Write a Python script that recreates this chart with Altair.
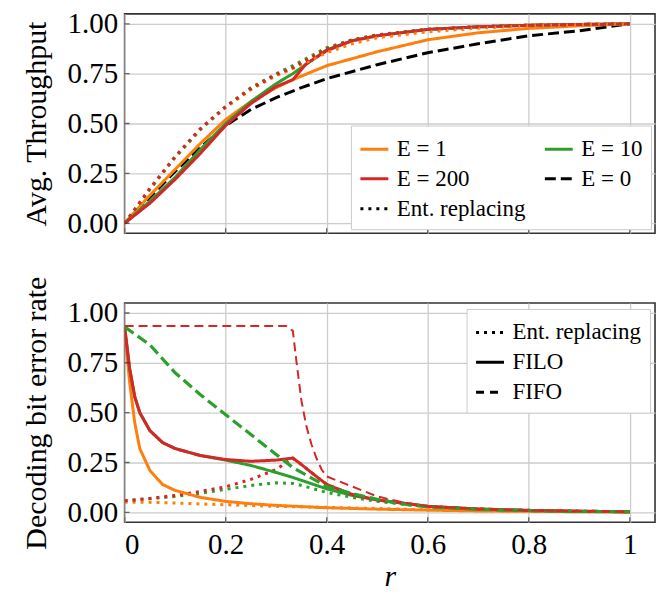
import altair as alt
import pandas as pd
import numpy as np

FONT = "Liberation Serif"
ORANGE = "#ff7f0e"
GREEN = "#2ca02c"
RED = "#d62728"
BLACK = "#000000"

# ---------------- top panel: Avg. Throughput ----------------
top_e0_x = [0, 0.05, 0.1, 0.15, 0.2, 0.25, 0.3, 0.35, 0.4, 0.5, 0.6, 0.7, 0.8, 0.9, 1.0]
top_e0_y = [0, 0.13, 0.26, 0.38, 0.49, 0.57, 0.63, 0.68, 0.725, 0.795, 0.855, 0.90, 0.94, 0.965, 1.0]

top_e1_x = [0, 0.05, 0.1, 0.15, 0.2, 0.25, 0.3, 0.333, 0.4, 0.5, 0.6, 0.7, 0.8, 0.9, 1.0]
top_e1_y = [0, 0.14, 0.27, 0.40, 0.52, 0.61, 0.68, 0.72, 0.79, 0.86, 0.92, 0.955, 0.977, 0.99, 1.0]

top_e10_x = [0, 0.05, 0.1, 0.15, 0.2, 0.25, 0.3, 0.333, 0.4, 0.45, 0.5, 0.6, 0.7, 0.8, 0.9, 1.0]
top_e10_y = [0, 0.11, 0.23, 0.37, 0.50, 0.61, 0.70, 0.75, 0.87, 0.915, 0.94, 0.972, 0.985, 0.993, 0.997, 1.0]

top_e200_x = [0, 0.05, 0.1, 0.15, 0.2, 0.25, 0.3, 0.333, 0.36, 0.4, 0.45, 0.5, 0.6, 0.7, 0.8, 0.9, 1.0]
top_e200_y = [0, 0.10, 0.22, 0.35, 0.49, 0.60, 0.685, 0.72, 0.80, 0.865, 0.915, 0.94, 0.972, 0.985, 0.993, 0.997, 1.0]

top_rep1_x = [0, 0.05, 0.1, 0.15, 0.2, 0.25, 0.3, 0.333, 0.4, 0.45, 0.5, 0.6, 0.7, 0.8, 0.9, 1.0]
top_rep1_y = [0, 0.17, 0.33, 0.47, 0.58, 0.67, 0.74, 0.775, 0.855, 0.90, 0.93, 0.96, 0.978, 0.99, 0.996, 1.0]

top_rep10_x = [0, 0.05, 0.1, 0.15, 0.2, 0.25, 0.3, 0.333, 0.4, 0.45, 0.5, 0.6, 0.7, 0.8, 0.9, 1.0]
top_rep10_y = [0, 0.17, 0.33, 0.47, 0.585, 0.68, 0.75, 0.79, 0.88, 0.92, 0.945, 0.973, 0.986, 0.993, 0.997, 1.0]

top_rep200_x = [0, 0.05, 0.1, 0.15, 0.2, 0.25, 0.3, 0.333, 0.4, 0.45, 0.5, 0.6, 0.7, 0.8, 0.9, 1.0]
top_rep200_y = [0, 0.175, 0.335, 0.475, 0.585, 0.675, 0.745, 0.78, 0.875, 0.918, 0.944, 0.972, 0.985, 0.993, 0.997, 1.0]

# ---------------- bottom panel: Decoding bit error rate ----------------
bot_filo1_x = [0, 0.005, 0.01, 0.02, 0.03, 0.05, 0.075, 0.1, 0.15, 0.2, 0.25, 0.3, 0.4, 0.5, 0.6, 0.7, 0.8, 0.9, 1.0]
bot_filo1_y = [0.90, 0.78, 0.65, 0.45, 0.32, 0.21, 0.14, 0.11, 0.075, 0.055, 0.043, 0.035, 0.023, 0.016, 0.011, 0.007, 0.005, 0.003, 0.002]

bot_filo10_x = [0, 0.01, 0.02, 0.03, 0.05, 0.075, 0.1, 0.15, 0.2, 0.25, 0.3, 0.333, 0.4, 0.45, 0.5, 0.6, 0.7, 0.8, 0.9, 1.0]
bot_filo10_y = [0.93, 0.72, 0.58, 0.50, 0.41, 0.35, 0.32, 0.285, 0.262, 0.235, 0.20, 0.175, 0.118, 0.085, 0.062, 0.03, 0.016, 0.009, 0.005, 0.003]

bot_filo200_x = [0, 0.01, 0.02, 0.03, 0.05, 0.075, 0.1, 0.15, 0.2, 0.25, 0.3, 0.333, 0.35, 0.367, 0.4, 0.45, 0.5, 0.6, 0.7, 0.8, 0.9, 1.0]
bot_filo200_y = [0.93, 0.72, 0.58, 0.50, 0.41, 0.35, 0.32, 0.285, 0.265, 0.256, 0.262, 0.272, 0.24, 0.205, 0.14, 0.09, 0.062, 0.03, 0.017, 0.01, 0.006, 0.003]

bot_fifo10_x = [0, 0.05, 0.1, 0.15, 0.2, 0.25, 0.3, 0.333, 0.35, 0.4, 0.45, 0.5, 0.55, 0.6, 0.7, 0.8, 0.9, 1.0]
bot_fifo10_y = [0.93, 0.84, 0.70, 0.59, 0.49, 0.39, 0.29, 0.225, 0.20, 0.13, 0.095, 0.065, 0.042, 0.027, 0.015, 0.009, 0.005, 0.003]

bot_fifo200_x = [0, 0.1, 0.2, 0.3, 0.32, 0.333, 0.34, 0.35, 0.36, 0.37, 0.38, 0.39, 0.4, 0.45, 0.5, 0.55, 0.6, 0.7, 0.8, 0.9, 1.0]
bot_fifo200_y = [0.935, 0.935, 0.935, 0.935, 0.935, 0.91, 0.76, 0.56, 0.43, 0.34, 0.27, 0.215, 0.18, 0.13, 0.08, 0.05, 0.03, 0.017, 0.01, 0.006, 0.003]

bot_rep1_x = [0, 0.05, 0.1, 0.15, 0.2, 0.3, 0.4, 0.5, 0.6, 0.7, 0.8, 0.9, 1.0]
bot_rep1_y = [0.05, 0.05, 0.047, 0.042, 0.038, 0.03, 0.025, 0.019, 0.013, 0.009, 0.006, 0.004, 0.002]

bot_rep10_x = [0, 0.05, 0.1, 0.15, 0.2, 0.25, 0.3, 0.333, 0.35, 0.4, 0.45, 0.5, 0.6, 0.7, 0.8, 0.9, 1.0]
bot_rep10_y = [0.058, 0.068, 0.08, 0.095, 0.115, 0.135, 0.148, 0.145, 0.135, 0.10, 0.075, 0.055, 0.028, 0.015, 0.009, 0.005, 0.003]

bot_rep200_x = [0, 0.05, 0.1, 0.15, 0.2, 0.25, 0.3, 0.333, 0.35, 0.367, 0.4, 0.45, 0.5, 0.6, 0.7, 0.8, 0.9, 1.0]
bot_rep200_y = [0.058, 0.07, 0.085, 0.105, 0.128, 0.165, 0.215, 0.272, 0.24, 0.205, 0.14, 0.09, 0.062, 0.03, 0.017, 0.01, 0.006, 0.003]

# ---------------- ticks / legend entries ----------------
x_ticks = [0, 0.2, 0.4, 0.6, 0.8, 1.0]
y_ticks = [0, 0.25, 0.5, 0.75, 1.0]

E_keys = ["1", "10", "200", "0"]
E_colors = [ORANGE, GREEN, RED, BLACK]

top_leg_keys = ["E = 1", "E = 10", "E = 200", "E = 0", "Ent. replacing"]
top_leg_colors = [ORANGE, GREEN, RED, BLACK, BLACK]
top_leg_dash = [[1, 0], [1, 0], [1, 0], [11, 5], [3, 5]]

bot_leg_keys = ["Ent. replacing", "FILO", "FIFO"]
bot_leg_colors = [BLACK, BLACK, BLACK]
bot_leg_dash = [[3, 5], [1, 0], [8, 6]]

SOLID = [1, 0]
DOT = [3, 5]
DASH = [11, 5]
THIN_DASH = [9, 5]

W = 532
H = 220
xs = alt.Scale(domain=[0, 1.05], nice=False, zero=False)
ys = alt.Scale(domain=[-0.05, 1.05], nice=False, zero=False)


def frame(series_list):
    rows = []
    for name, e, xv, yv, dash, width in series_list:
        for a, b in zip(xv, yv):
            rows.append({"series": name, "E": e, "x": a, "y": b})
    return pd.DataFrame(rows)


top_series = [
    ("e0", "0", top_e0_x, top_e0_y, DASH, 3),
    ("e1", "1", top_e1_x, top_e1_y, SOLID, 3),
    ("e10", "10", top_e10_x, top_e10_y, SOLID, 3),
    ("e200", "200", top_e200_x, top_e200_y, SOLID, 3),
    ("rep1", "1", top_rep1_x, top_rep1_y, DOT, 3),
    ("rep10", "10", top_rep10_x, top_rep10_y, DOT, 3),
    ("rep200", "200", top_rep200_x, top_rep200_y, DOT, 3),
]

bot_series = [
    ("rep1", "1", bot_rep1_x, bot_rep1_y, DOT, 3),
    ("rep10", "10", bot_rep10_x, bot_rep10_y, DOT, 3),
    ("rep200", "200", bot_rep200_x, bot_rep200_y, DOT, 3),
    ("filo1", "1", bot_filo1_x, bot_filo1_y, SOLID, 3),
    ("filo10", "10", bot_filo10_x, bot_filo10_y, SOLID, 3),
    ("filo200", "200", bot_filo200_x, bot_filo200_y, SOLID, 3),
    ("fifo10", "10", bot_fifo10_x, bot_fifo10_y, DASH, 3.2),
    ("fifo200", "200", bot_fifo200_x, bot_fifo200_y, THIN_DASH, 2),
]


def panel(series_list, show_x_labels, y_title, leg_keys, leg_colors, leg_dash, leg_x, leg_y, leg_cols):
    df = frame(series_list)
    if show_x_labels:
        x_axis = alt.Axis(values=x_ticks, format="~g", labelPadding=8, title="r",
                          titleFontStyle="italic", titlePadding=2)
    else:
        x_axis = alt.Axis(values=x_ticks, labels=False, title=None)
    y_axis = alt.Axis(values=y_ticks, format=".2f", labelPadding=7, title=y_title, titlePadding=16)

    xenc = alt.X("x:Q", scale=xs, axis=x_axis)
    yenc = alt.Y("y:Q", scale=ys, axis=y_axis)

    layers = []
    for name, e, xv, yv, dash, width in series_list:
        layers.append(
            alt.Chart(df)
            .transform_filter(alt.datum.series == name)
            .mark_line(strokeWidth=width, strokeDash=dash, clip=True)
            .encode(
                x=xenc,
                y=yenc,
                color=alt.Color("E:N", scale=alt.Scale(domain=E_keys, range=E_colors), legend=None),
            )
        )

    ytick_df = pd.DataFrame({"y": y_ticks})
    xtick_df = pd.DataFrame({"x": x_ticks})
    layers.append(
        alt.Chart(ytick_df)
        .mark_tick(orient="horizontal", size=10, thickness=1.4, color="#333333", clip=True)
        .encode(y=yenc, x=alt.value(0))
    )
    layers.append(
        alt.Chart(xtick_df)
        .mark_tick(orient="vertical", size=10, thickness=1.4, color="#333333", clip=True)
        .encode(x=xenc, y=alt.value(H))
    )
    data_layer = alt.layer(*layers)

    leg_df = pd.DataFrame({"key": leg_keys, "x": [np.nan] * len(leg_keys), "y": [np.nan] * len(leg_keys)})
    legend = alt.Legend(
        title=None, orient="none", legendX=leg_x, legendY=leg_y, columns=leg_cols,
        direction="horizontal",
        symbolType="stroke", symbolSize=784, symbolStrokeWidth=3,
        labelFont=FONT, labelFontSize=23, labelColor="black", labelOffset=7,
        rowPadding=2, columnPadding=12, padding=8,
        fillColor="white", strokeColor="#cccccc", labelLimit=300,
    )
    leg_layer = (
        alt.Chart(leg_df)
        .mark_line(strokeWidth=3)
        .encode(
            x=xenc,
            y=yenc,
            color=alt.Color("key:N", scale=alt.Scale(domain=leg_keys, range=leg_colors), legend=legend),
            strokeDash=alt.StrokeDash("key:N", scale=alt.Scale(domain=leg_keys, range=leg_dash), legend=legend),
        )
    )
    return (
        alt.layer(data_layer, leg_layer)
        .resolve_scale(color="independent", strokeDash="independent")
        .properties(width=W, height=H)
    )


top = panel(top_series, False, "Avg. Throughput", top_leg_keys, top_leg_colors, top_leg_dash, 227, 112, 2)
bottom = panel(bot_series, True, "Decoding bit error rate", bot_leg_keys, bot_leg_colors, bot_leg_dash, 343, 6, 1)

chart = (
    alt.vconcat(top, bottom, spacing=70, bounds="flush")
    .resolve_scale(color="independent", strokeDash="independent")
    .resolve_legend(color="independent", strokeDash="independent")
    .properties(padding={"left": 20, "top": 8, "right": 4, "bottom": 0}, background="white")
    .configure(font=FONT)
    .configure_view(stroke="#333333", strokeWidth=1.6)
    .configure_legend(labelFont=FONT)
    .configure_axis(
        grid=True, gridColor="#cccccc", gridWidth=1.3, domain=False, ticks=False,
        labelFont=FONT, labelFontSize=29, labelColor="black",
        titleFont=FONT, titleFontSize=30, titleFontWeight="normal", titleColor="black",
    )
)

chart.save("out.html", embed_options={"renderer": "svg", "actions": False})
